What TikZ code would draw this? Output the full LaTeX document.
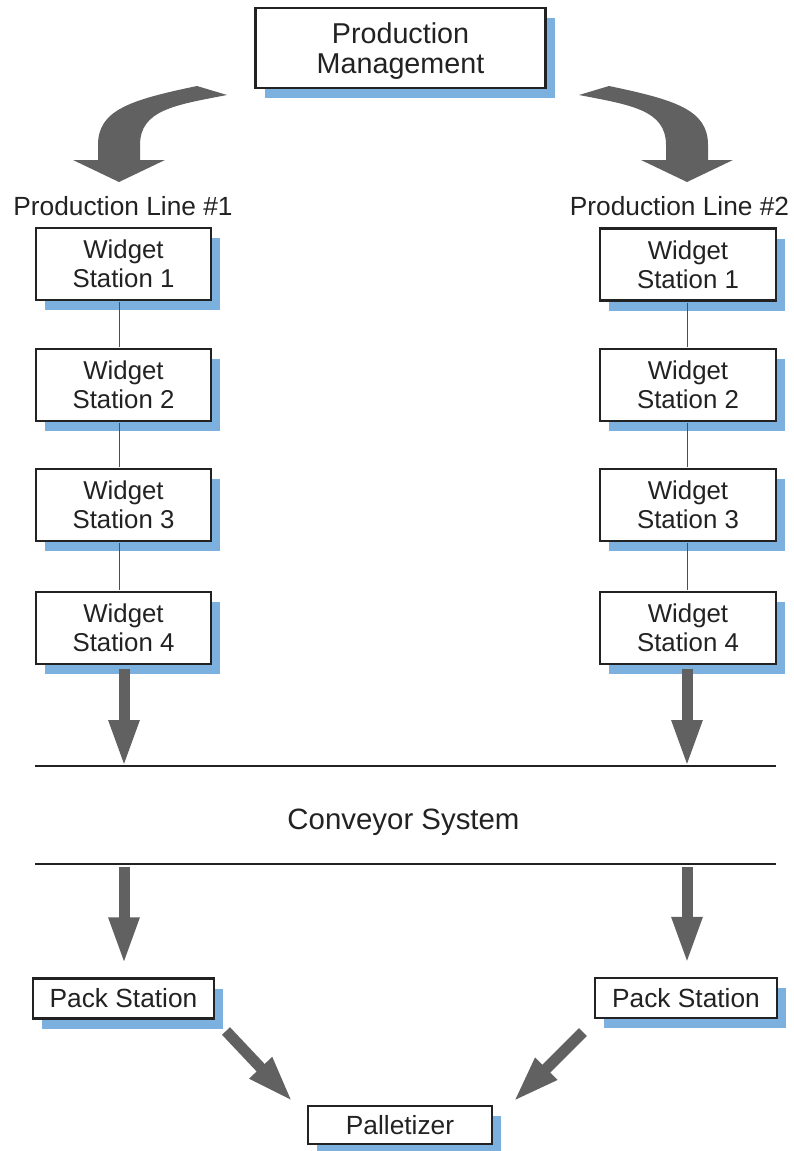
\documentclass[tikz,border=0pt]{standalone}
\usepackage{fontspec}
\setmainfont{Liberation Sans}
\usetikzlibrary{arrows.meta,calc,shadows}
\definecolor{shadowblue}{HTML}{7BB0DF}
\definecolor{arrowgray}{HTML}{616161}
\definecolor{ink}{HTML}{222222}
\tikzset{
  box/.style={draw=ink, line width=2.2pt, fill=white, inner sep=0pt, align=center,
    text=ink, font=\fontsize{25.8}{29}\selectfont,
    drop shadow={shadow xshift=9pt, shadow yshift=-10pt, fill=shadowblue, opacity=1, draw=none}},
  wbox/.style={box, minimum width=175pt, minimum height=72pt},
  pbox/.style={box, minimum width=182pt, minimum height=40pt, font=\fontsize{26.3}{29}\selectfont},
  link/.style={draw=ink!80, line width=0.9pt},
  blockarrow/.style={draw=arrowgray, line width=11pt, -{Triangle[width=28pt,length=47pt]}},
  label/.style={text=ink, font=\fontsize{26.3}{29}\selectfont, inner sep=0pt},
  rail/.style={draw=ink, line width=1.8pt},
}
\begin{document}
\begin{tikzpicture}[x=1pt,y=-1pt]
\useasboundingbox (0,0) rectangle (793,1151);

% Production management
\node[box, minimum width=290pt, minimum height=80pt, font=\fontsize{28.7}{30.5}\selectfont] (pm) at (400.5,48) {};
\node[text=ink, font=\fontsize{28.7}{30.5}\selectfont, align=center, inner sep=0pt] (pmtext) at (400.5,51) {Production\\Management};

% curved arrows
\fill[arrowgray] (119,182) -- (73,160) -- (98,160) -- (98,145)
  .. controls (98,110) and (130,100) .. (197,86) -- (227,95)
  .. controls (175,105) and (140,110) .. (140,145) -- (140,160) -- (165,160) -- cycle;
\fill[arrowgray] (687,182) -- (733,160) -- (708,160) -- (708,145)
  .. controls (708,110) and (676,100) .. (609,86) -- (579,95)
  .. controls (631,105) and (666,110) .. (666,145) -- (666,160) -- (641,160) -- cycle;

% line labels
\node[label, anchor=base] (pl1) at (123,215) {Production Line \#1};
\node[label, anchor=base] (pl2) at (679.5,215) {Production Line \#2};

% left stations
\node[wbox] (l1) at (123.5,264) {Widget\\Station 1};
\node[wbox] (l2) at (123.5,385) {Widget\\Station 2};
\node[wbox] (l3) at (123.5,505) {Widget\\Station 3};
\node[wbox] (l4) at (123.5,628) {Widget\\Station 4};
% right stations
\node[wbox, minimum width=176pt] (r1) at (688,264.5) {Widget\\Station 1};
\node[wbox, minimum width=176pt] (r2) at (688,385) {Widget\\Station 2};
\node[wbox, minimum width=176pt] (r3) at (688,505) {Widget\\Station 3};
\node[wbox, minimum width=176pt] (r4) at (688,628) {Widget\\Station 4};

% links between stations
\foreach \a/\b in {l1/l2,l2/l3,l3/l4}
  \draw[link] ($(\a.south)+(-4.5,1.1)$) -- ($(\b.north)+(-4.5,-1.1)$);
\foreach \a/\b in {r1/r2,r2/r3,r3/r4}
  \draw[link] ($(\a.south)+(-1,1.1)$) -- ($(\b.north)+(-1,-1.1)$);

% conveyor
\coordinate (c1w) at (35,766);
\coordinate (c1e) at (776,766);
\coordinate (c2w) at (35,864);
\coordinate (c2e) at (776,864);
\draw[rail] (c1w) -- (c1e);
\draw[rail] (c2w) -- (c2e);
\node[label, font=\fontsize{29.4}{32}\selectfont, anchor=base] (conv) at (403.5,829) {Conveyor System};

\coordinate (inL) at (124,767);
\coordinate (inR) at (687,767);
\draw[blockarrow] ($(l4.south)+(0.5,4)$) -- (inL);
\draw[blockarrow] ($(r4.south)+(-1,4)$) -- (inR);

% pack stations
\node[pbox, minimum width=181pt] (p1) at (123.5,998.5) {Pack Station};
\node[pbox] (p2) at (686,998) {Pack Station};
\node[pbox, minimum width=184pt, minimum height=38pt] (pal) at (400,1125) {Palletizer};

\coordinate (outL) at (124,867);
\coordinate (outR) at (687,867);
\draw[blockarrow] (outL) -- ($(p1.north)+(0.5,-13)$);
\draw[blockarrow] (outR) -- ($(p2.north)+(1,-13)$);

% diagonal arrows to palletizer
\coordinate (dL) at (226,1031);
\coordinate (dR) at (583,1032);
\draw[blockarrow] (dL) -- ($(pal.north west)+(-14,-3)$);
\draw[blockarrow] (dR) -- ($(pal.north east)+(20,-3)$);
\end{tikzpicture}
\end{document}
